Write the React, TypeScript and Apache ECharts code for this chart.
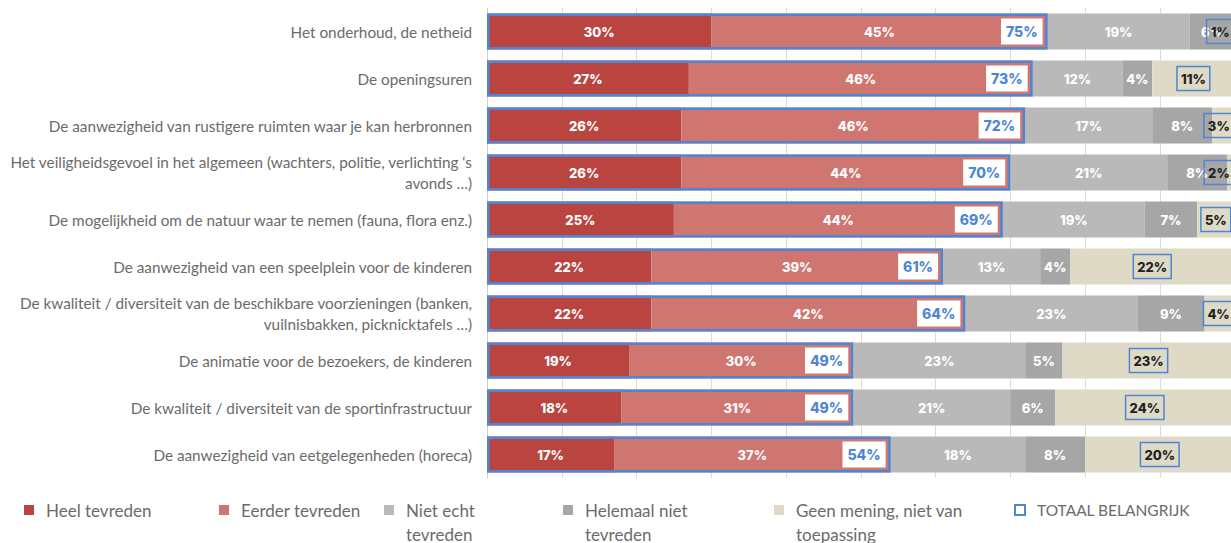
import React, { useEffect, useRef } from "react";
import * as echarts from "echarts";

const categories = [
  "Het onderhoud, de netheid",
  "De openingsuren",
  "De aanwezigheid van rustigere ruimten waar je kan herbronnen",
  "Het veiligheidsgevoel in het algemeen (wachters, politie, verlichting ‘s\navonds …)",
  "De mogelijkheid om de natuur waar te nemen (fauna, flora enz.)",
  "De aanwezigheid van een speelplein voor de kinderen",
  "De kwaliteit / diversiteit van de beschikbare voorzieningen (banken,\nvuilnisbakken, picknicktafels …)",
  "De animatie voor de bezoekers, de kinderen",
  "De kwaliteit / diversiteit van de sportinfrastructuur",
  "De aanwezigheid van eetgelegenheden (horeca)",
];

const heelTevreden = [30, 27, 26, 26, 25, 22, 22, 19, 18, 17];
const eerderTevreden = [45, 46, 46, 44, 44, 39, 42, 30, 31, 37];
const nietEchtTevreden = [19, 12, 17, 21, 19, 13, 23, 23, 21, 18];
const helemaalNietTevreden = [6, 4, 8, 8, 7, 4, 9, 5, 6, 8];
const geenMening = [1, 11, 3, 2, 5, 22, 4, 23, 24, 20];
const totaalBelangrijk = [75, 73, 72, 70, 69, 61, 64, 49, 49, 54];

const seriesNames = [
  "Heel tevreden",
  "Eerder tevreden",
  "Niet echt tevreden",
  "Helemaal niet tevreden",
  "Geen mening, niet van toepassing",
  "TOTAAL BELANGRIJK",
];
const legendLabels = [
  "Heel tevreden",
  "Eerder tevreden",
  "Niet echt\ntevreden",
  "Helemaal niet\ntevreden",
  "Geen mening, niet van\ntoepassing",
  "TOTAAL BELANGRIJK",
];

const COLORS = ["#BA4540", "#CF7671", "#B9B9B9", "#A6A6A6", "#DEDAC6"];
const BLUE = "#4E86D5";
const GRID_LEFT = 487;
const PX_PER_PCT = 7.475;
const X_MAX = 110;
const LIMIT = GRID_LEFT + 100 * PX_PER_PCT;

export default function App() {
  const ref = useRef<HTMLDivElement>(null);
  useEffect(() => {
    if (!ref.current) return;
    const chart = echarts.init(ref.current, null, { renderer: "svg" });
    const valueFont = { fontFamily: "Inter", fontWeight: 800 as any, fontSize: 13 };
    const segData = [heelTevreden, eerderTevreden, nietEchtTevreden, helemaalNietTevreden, geenMening];
    const stackSeries = segData.map((d, i) => ({
      name: seriesNames[i],
      type: "bar",
      stack: "total",
      barWidth: 36,
      barGap: "-100%",
      data: d,
      itemStyle: { color: COLORS[i] },
      label:
        i < 4
          ? { show: true, position: "inside", formatter: "{c}%", color: "#fff", ...valueFont }
          : {
              show: true,
              position: "inside",
              formatter: "{c}%",
              color: "#222",
              ...valueFont,
              borderColor: BLUE,
              borderWidth: 1.5,
              padding: [6, 4, 5, 4],
            },
      labelLayout:
        i === 4
          ? (params: any) => {
              const r = params.labelRect;
              if (r.x + r.width > LIMIT) return { dx: LIMIT - (r.x + r.width) };
              return {};
            }
          : undefined,
    }));
    const totalSeries = {
      name: seriesNames[5],
      type: "bar",
      barWidth: 36,
      barGap: "-100%",
      z: 5,
      data: totaalBelangrijk,
      itemStyle: { color: "rgba(0,0,0,0)", borderColor: BLUE, borderWidth: 2.5 },
      label: {
        show: true,
        position: "insideRight",
        distance: 5,
        formatter: "{c}%",
        color: BLUE,
        ...valueFont,
        fontSize: 14,
        backgroundColor: "#fff",
        padding: [6, 5, 6, 5],
      },
    };
    const legendLefts = [24, 219, 384, 563, 774, 1014];
    const LH = 24;
    const ICON_CENTER = 510;
    const legends = seriesNames.map((n, i) => {
      const twoLine = legendLabels[i].includes("\n");
      return {
        data: [
          i === 5
            ? { name: n, itemStyle: { color: "rgba(0,0,0,0)", borderColor: BLUE, borderWidth: 2 } }
            : { name: n },
        ],
        left: legendLefts[i],
        top: twoLine ? ICON_CENTER - LH * 1.5 : ICON_CENTER - LH / 2,
        padding: 0,
        icon: "rect",
        itemWidth: 10,
        itemHeight: 10,
        selectedMode: false,
        formatter: () => (twoLine ? "\u00a0\n" + legendLabels[i] : legendLabels[i]),
        textStyle: {
          fontFamily: "Lato",
          fontSize: i === 5 ? 15.5 : 17,
          color: "#6B6B6B",
          lineHeight: LH,
          padding: [0, 0, 0, 7],
        },
      };
    });
    chart.setOption({
      animation: false,
      legend: legends,
      grid: { left: GRID_LEFT, top: 8, height: 470, width: X_MAX * PX_PER_PCT },
      xAxis: {
        type: "value",
        min: 0,
        max: X_MAX,
        interval: 10,
        axisLabel: { show: false },
        axisLine: { show: false },
        axisTick: { show: false },
        splitLine: { show: true, lineStyle: { color: "#DCDCDC", width: 1 } },
      },
      yAxis: {
        type: "category",
        inverse: true,
        data: categories,
        axisLine: { show: true, lineStyle: { color: "#D0D0D0" } },
        axisTick: { show: false },
        axisLabel: {
          margin: 15,
          color: "#6B6B6B",
          fontFamily: "Lato",
          fontSize: 15.3,
          lineHeight: 21,
          align: "right",
        },
      },
      series: [...stackSeries, totalSeries],
    });
    return () => chart.dispose();
  }, []);
  return (
    <div style={{ position: "fixed", left: 0, top: 0, width: 1231, height: 543, overflow: "hidden", background: "#fff" }}>
      <div ref={ref} style={{ width: 1320, height: 543 }} />
    </div>
  );
}
